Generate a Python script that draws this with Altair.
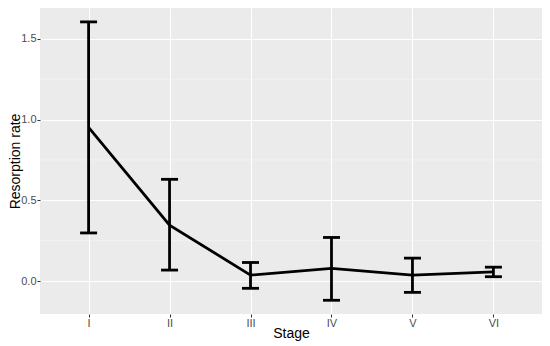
import altair as alt
import pandas as pd

stages = ["I", "II", "III", "IV", "V", "VI"]
mean_rate = [0.952, 0.346, 0.037, 0.078, 0.037, 0.057]
upper_rate = [1.605, 0.630, 0.115, 0.270, 0.142, 0.086]
lower_rate = [0.298, 0.068, -0.045, -0.119, -0.070, 0.027]
minor_grid = [0.25, 0.75, 1.25]

df = pd.DataFrame({"stage": stages, "mean": mean_rate, "hi": upper_rate, "lo": lower_rate})
minor_df = pd.DataFrame({"v": minor_grid})

xs = alt.Scale(type="point", domain=stages, padding=0.6)
ys = alt.Scale(domain=[-0.204, 1.691], nice=False, zero=False)

x_axis = alt.Axis(title="Stage", labelAngle=0, grid=True, gridColor="white", gridWidth=1,
                  domain=False, tickColor="#333333", tickSize=3, labelColor="#4D4D4D",
                  labelFontSize=11, labelFont="Liberation Sans", labelPadding=0,
                  titleFont="Liberation Sans", titleFontSize=14, titleFontWeight="normal",
                  titleColor="black", titleY=12, titleBaseline="top")
y_axis = alt.Axis(title="Resorption rate", values=[0.0, 0.5, 1.0, 1.5], format=".1f",
                  grid=True, gridColor="white", gridWidth=1, domain=False,
                  tickColor="#333333", tickSize=3, labelColor="#4D4D4D", labelFontSize=11,
                  labelFont="Liberation Sans", labelPadding=1,
                  titleFont="Liberation Sans", titleFontSize=14, titleFontWeight="normal",
                  titleColor="black", titleX=-21, titleBaseline="alphabetic")

minor = alt.Chart(minor_df).mark_rule(color="white", strokeWidth=0.5, opacity=0.8).encode(
    y=alt.Y("v:Q", scale=ys, axis=y_axis)
)

base = alt.Chart(df)
line = base.mark_line(color="black", strokeWidth=2.8).encode(
    x=alt.X("stage:O", scale=xs, axis=x_axis, sort=stages),
    y=alt.Y("mean:Q", scale=ys, axis=y_axis),
)
bars = base.mark_rule(color="black", strokeWidth=2.8).encode(
    x=alt.X("stage:O", scale=xs, sort=stages), y=alt.Y("lo:Q", scale=ys), y2="hi:Q"
)
cap_hi = base.mark_tick(color="black", thickness=2.8, size=17, orient="horizontal", opacity=1).encode(
    x=alt.X("stage:O", scale=xs, sort=stages), y=alt.Y("hi:Q", scale=ys)
)
cap_lo = base.mark_tick(color="black", thickness=2.8, size=17, orient="horizontal", opacity=1).encode(
    x=alt.X("stage:O", scale=xs, sort=stages), y=alt.Y("lo:Q", scale=ys)
)

chart = alt.layer(minor, line, bars, cap_hi, cap_lo).properties(
    width=502, height=306,
    padding={"left": 32, "top": 0, "right": 0, "bottom": 30},
    autosize=alt.AutoSizeParams(type="none"),
    background="white",
).configure_view(fill="#EBEBEB", stroke=None)

chart.save("out.html", embed_options={"renderer": "svg", "actions": False})
